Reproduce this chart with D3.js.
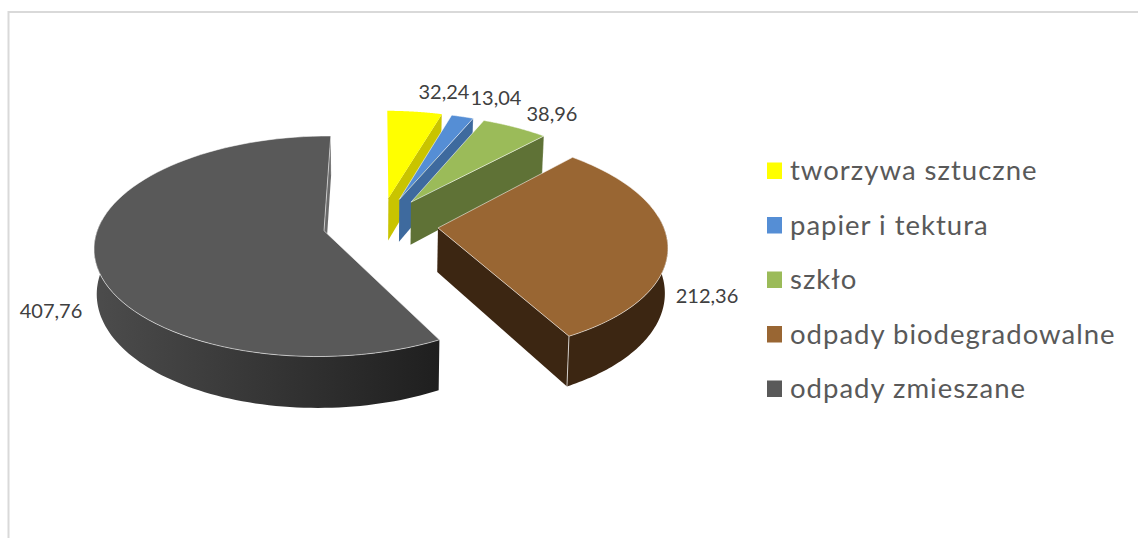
<!DOCTYPE html>
<html><head><meta charset="utf-8">
<script src="https://cdn.jsdelivr.net/npm/d3@7"></script>
<style>html,body{margin:0;padding:0;background:#fff}svg{display:block}</style>
</head><body><svg id="c" width="1138" height="538"></svg>
<script>
const categories = ["tworzywa sztuczne","papier i tektura","szkło","odpady biodegradowalne","odpady zmieszane"];
const values = [32.24,13.04,38.96,212.36,407.76];
const valueLabels = ["32,24","13,04","38,96","212,36","407,76"];
const topColors = ["#ffff00","#558ed5","#9bbb59","#996633","#595959"];
const faceColors = ["#c9c400","#3e6a9e","#5f7236","#3c2612","#6a6a6a"];

const svg = d3.select("#c");
// chart frame
svg.append("path").attr("d","M8.5,538V12H1138").attr("fill","none").attr("stroke","#d9d9d9").attr("stroke-width",2);

// perspective parameters
const cx = 365, cy = 228, persp = 0.00062, tilt = 0.475, R = 226, explode = 58, depth = 44;
const X0 = 15.5, Y0 = 8;
const project = (x,y,z=0) => {
  const w = 1/(1+persp*y);
  const t = 1 - 0.01*z/depth;
  return [cx + x*w*t, cy - tilt*y*w + z*w];
};
const pie = d3.pie().sort(null).value(d=>d).startAngle(0.5*Math.PI/180).endAngle(2*Math.PI+0.5*Math.PI/180);
const arcs = pie(values);
const line = d3.line().curve(d3.curveLinear);
const defs = svg.append("defs");
const grad = defs.append("linearGradient").attr("id","wall").attr("gradientUnits","userSpaceOnUse")
  .attr("x1",94).attr("x2",438).attr("y1",0).attr("y2",0);
grad.append("stop").attr("offset",0).attr("stop-color","#4c4c4c");
grad.append("stop").attr("offset",1).attr("stop-color","#1f1f1f");

const range = (a,b) => d3.range(0,81).map(i=>a+(b-a)*i/80);
arcs.forEach((d,i)=>{
  const mid = (d.startAngle+d.endAngle)/2;
  const ax = X0 + explode*Math.sin(mid), ay = Y0 + explode*Math.cos(mid);
  const pt = (a,z=0,r=R) => project(ax+r*Math.sin(a), ay+r*Math.cos(a), z);
  const g = svg.append("g");
  // outer front wall
  const lo = Math.max(d.startAngle, 84*Math.PI/180), hi = Math.min(d.endAngle, 276*Math.PI/180);
  if (hi>lo){
    const as = range(lo,hi);
    const poly = as.map(a=>pt(a,0)).concat(as.slice().reverse().map(a=>pt(a,depth)));
    g.append("path").attr("d",line(poly)+"Z")
      .attr("fill", i===4 ? "url(#wall)" : faceColors[i]);
  }
  // radial face at the slice's end
  const e = d.endAngle;
  const face = [project(ax,ay,0), pt(e,0), pt(e,depth), project(ax,ay,depth)];
  g.append("path").attr("d",line(face)+"Z").attr("fill",faceColors[i]);
  g.append("path").attr("d",line([pt(e,0),pt(e,depth)])).attr("stroke","#fff")
    .attr("stroke-opacity",i===3?0.7:0.25).attr("fill","none");
  // top
  const top = [project(ax,ay,0)].concat(range(d.startAngle,d.endAngle).map(a=>pt(a,0)));
  g.append("path").attr("d",line(top)+"Z").attr("fill",topColors[i])
    .attr("stroke", "#ffffff").attr("stroke-opacity",i===0?0:0.55).attr("stroke-width",1);
});

// data labels
const labelPos = [[444,99],[496,105],[552,121],[707,303],[51,318]];
svg.append("g").selectAll("text").data(valueLabels).join("text")
  .attr("x",(d,i)=>labelPos[i][0]).attr("y",(d,i)=>labelPos[i][1])
  .attr("text-anchor","middle").attr("font-family","Lato").attr("font-size",20)
  .attr("fill","#404040").text(d=>d);

// legend
const legY = d3.scalePoint().domain(categories).range([171,389]);
const leg = svg.append("g").selectAll("g").data(categories).join("g");
leg.append("rect").attr("x",767).attr("y",d=>legY(d)-8.5).attr("width",15).attr("height",16.5)
  .attr("fill",(d,i)=>topColors[i]);
leg.append("text").attr("x",790).attr("y",d=>legY(d)+9)
  .attr("font-family","Lato").attr("font-size",27.5).attr("letter-spacing",1)
  .attr("fill","#595959").text(d=>d);
</script></body></html>
